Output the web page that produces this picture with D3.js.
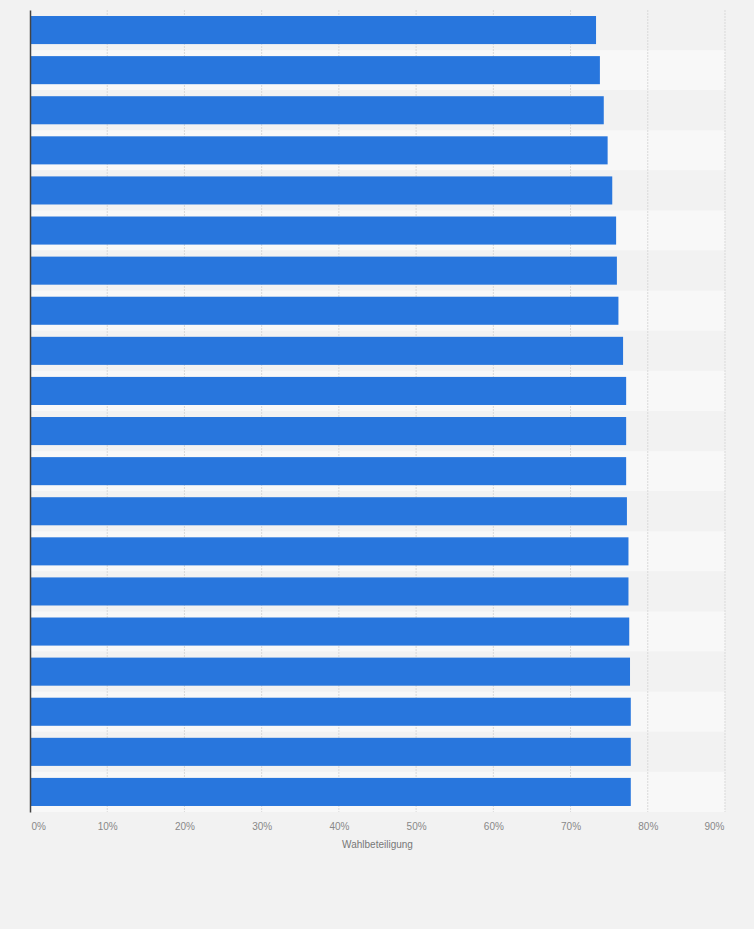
<!DOCTYPE html>
<html>
<head>
<meta charset="utf-8">
<script src="https://cdn.jsdelivr.net/npm/d3@7"></script>
<style>
  html, body { margin: 0; padding: 0; background: #f2f2f2; }
  svg { display: block; font-family: Arial, "Liberation Sans", sans-serif; }
</style>
</head>
<body>
<div id="chart"></div>
<script>
// row ids (no category labels are shown in the chart)
const rows = d3.range(1, 21).map(String);
// turnout in percent, top to bottom
const turnout = [73.3, 73.8, 74.3, 74.8, 75.4, 75.9, 76.0, 76.2, 76.8, 77.2,
                 77.2, 77.2, 77.3, 77.5, 77.5, 77.6, 77.7, 77.8, 77.8, 77.8];
const xTicks = [0, 10, 20, 30, 40, 50, 60, 70, 80, 90];
const xTitle = "Wahlbeteiligung";

const W = 754, H = 929;
const margin = { top: 10, right: 29, bottom: 117, left: 30 },
    width = W - margin.left - margin.right,
    height = H - margin.top - margin.bottom;

const svg = d3.select("#chart")
    .append("svg")
    .attr("width", W)
    .attr("height", H);

svg.append("rect").attr("width", W).attr("height", H).attr("fill", "#f2f2f2");

const g = svg.append("g")
    .attr("transform", "translate(" + margin.left + "," + margin.top + ")");

const x = d3.scaleLinear().domain([0, 90]).range([0, width]);
const y = d3.scaleBand().domain(rows).range([0, height])
    .paddingInner(0.3).paddingOuter(0.15);

const step = y.step();

// alternating row bands
g.append("g")
    .selectAll("rect")
    .data(rows)
    .enter()
    .append("rect")
    .attr("x", 0)
    .attr("y", d => y(d) - step * 0.15)
    .attr("width", x(90))
    .attr("height", step)
    .attr("fill", (d, i) => i % 2 ? "#f8f8f8" : "#f2f2f2");

// dashed vertical gridlines
g.append("g")
    .selectAll("line")
    .data(xTicks.slice(1))
    .enter()
    .append("line")
    .attr("x1", d => x(d))
    .attr("x2", d => x(d))
    .attr("y1", 0)
    .attr("y2", height)
    .attr("stroke", "#d9d9d9")
    .attr("stroke-width", 1)
    .attr("stroke-dasharray", "2,1");

// bars
g.append("g")
    .selectAll("rect")
    .data(turnout)
    .enter()
    .append("rect")
    .attr("x", 0)
    .attr("y", (d, i) => y(rows[i]))
    .attr("width", d => x(d))
    .attr("height", y.bandwidth())
    .attr("fill", "#2876dd");

// x axis labels
const xAxis = g.append("g")
    .attr("transform", "translate(0," + height + ")")
    .call(d3.axisBottom(x).tickValues(xTicks).tickFormat(d => d + "%").tickSize(0).tickPadding(11));
xAxis.select(".domain").remove();
xAxis.selectAll("text")
    .attr("fill", "#888")
    .attr("font-size", 10)
    .attr("font-family", "Arial, 'Liberation Sans', sans-serif");
// first label sits right of its tick, last one left of it
xAxis.selectAll(".tick").filter(d => d === 0).select("text")
    .attr("text-anchor", "start").attr("dx", 1);
xAxis.selectAll(".tick").filter(d => d === 90).select("text")
    .attr("text-anchor", "end").attr("dx", -1);

// left axis line
const yAxis = g.append("g")
    .call(d3.axisLeft(y).tickSize(0).tickFormat(""));
yAxis.select(".domain")
    .attr("stroke", "#444")
    .attr("stroke-width", 1.5);

// x axis title
g.append("text")
    .attr("x", width / 2)
    .attr("y", height + 36)
    .attr("text-anchor", "middle")
    .attr("fill", "#777")
    .attr("font-size", 10)
    .text(xTitle);
</script>
</body>
</html>
